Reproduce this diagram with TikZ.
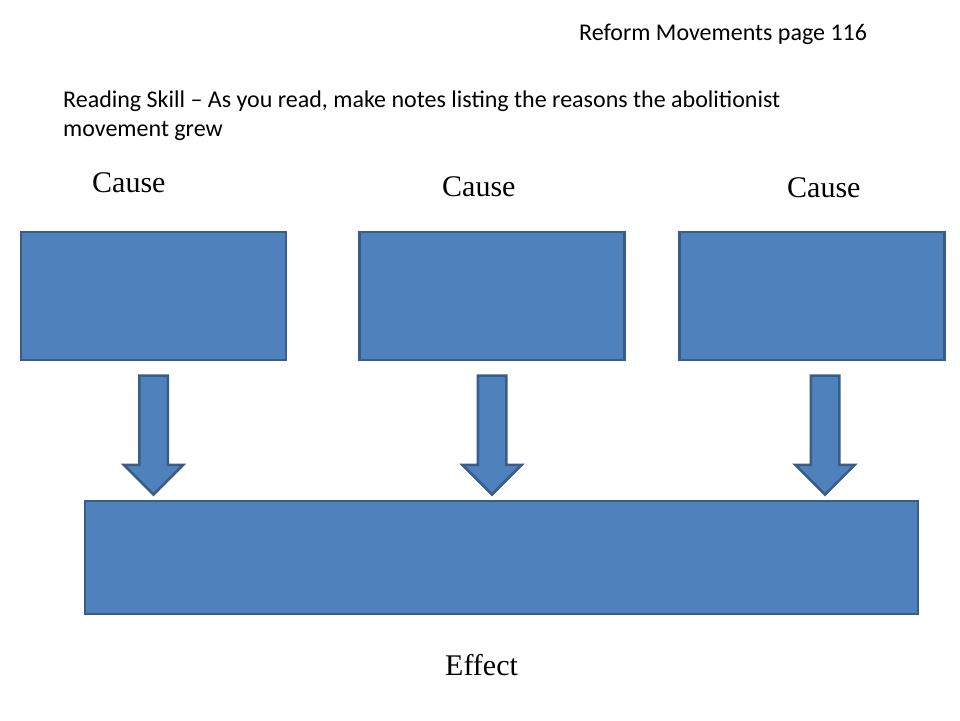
\documentclass[tikz,border=0pt]{standalone}
\usepackage{fontspec}
\setmainfont{Liberation Serif}
\newfontfamily\calibri{Carlito}
\usetikzlibrary{shapes.arrows}

\definecolor{boxblue}{HTML}{4F81BD}
\definecolor{boxline}{HTML}{385D8A}

\tikzset{
    causebox/.style={draw=boxline, fill=boxblue, line width=2.5pt, minimum width=265pt, minimum height=128pt, inner sep=0pt},
    blockarrow/.style={single arrow, draw=boxline, fill=boxblue, line width=2.5pt, rotate=-90, minimum height=119pt,
        inner xsep=0pt, inner ysep=13pt, single arrow head extend=15.5pt, anchor=tail},
    notetext/.style={font=\calibri\fontsize{24}{29}\selectfont, inner sep=0pt, anchor=base west},
    labeltext/.style={font=\fontsize{30}{36}\selectfont, inner sep=0pt, anchor=base west}
}

\begin{document}
\begin{tikzpicture}[x=1pt, y=-1pt]
    \useasboundingbox (0,0) rectangle (960,720);
    % header texts
    \node[notetext] (title) at (579,40) {Reform Movements page 116};
    \node[notetext] (skill) at (63,107) {Reading Skill – As you read, make notes listing the reasons the abolitionist};
    \node[notetext] (skill2) at (63,136) {movement grew};
    % causes
    \node[labeltext] (l1) at (92,192) {Cause};
    \node[labeltext] (l2) at (442,196) {Cause};
    \node[labeltext] (l3) at (787,197) {Cause};
    \node[causebox] (c1) at (153.5,296) {};
    \node[causebox] (c2) at (492,296) {};
    \node[causebox] (c3) at (812,296) {};
    % effect
    \node[causebox, minimum width=833pt, minimum height=113pt] (eff) at (501.5,557.5) {};
    \node[labeltext] (le) at (445,675) {Effect};
    % arrows
    \node[blockarrow] (a1) at ([yshift=-13pt]c1.south) {};
    \node[blockarrow] (a2) at ([yshift=-13pt]c2.south) {};
    \node[blockarrow] (a3) at ([xshift=13pt, yshift=-13pt]c3.south) {};
\end{tikzpicture}
\end{document}
